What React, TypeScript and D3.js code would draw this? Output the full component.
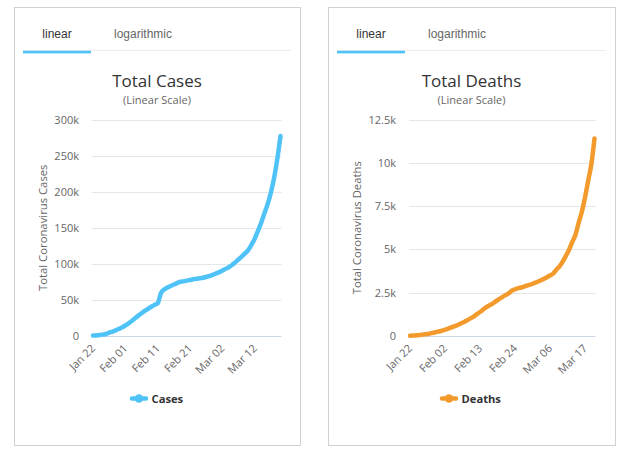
import React from "react";
import * as d3 from "d3";

// ---- data ----
const dates: Date[] = d3.timeDay.range(new Date(2020, 0, 22), new Date(2020, 2, 21)); // Jan 22 .. Mar 20

const totalCases = [
  580, 845, 1317, 2015, 2800, 4581, 6058, 7813, 9823, 11948,
  14551, 17389, 20628, 24553, 28276, 31439, 34876, 37552, 40553, 43099,
  45134, 59287, 64438, 67100, 69197, 71329, 73332, 75184, 75700, 76677,
  77673, 78651, 79205, 80087, 80828, 81820, 83112, 84615, 86604, 88585,
  90443, 93016, 95314, 98425, 102050, 106099, 109991, 114381, 118948, 126214,
  134576, 145483, 156653, 169593, 182490, 198238, 218822, 244933, 277000,
];

const totalDeaths = [
  17, 25, 41, 56, 80, 106, 132, 170, 213, 259,
  304, 362, 426, 492, 565, 638, 724, 813, 910, 1018,
  1115, 1261, 1383, 1526, 1669, 1775, 1873, 2009, 2126, 2247,
  2360, 2460, 2618, 2699, 2763, 2800, 2858, 2923, 2977, 3050,
  3117, 3202, 3285, 3387, 3494, 3599, 3827, 4025, 4296, 4628,
  4981, 5428, 5833, 6520, 7162, 7979, 8951, 9907, 11400,
];

const casesYTicks = [0, 50000, 100000, 150000, 200000, 250000, 300000];
const deathsYTicks = [0, 2500, 5000, 7500, 10000, 12500];
const casesXTickStep = 10;
const deathsXTickStep = 11;
const tabLabels = ["linear", "logarithmic"];

const fmtDate = d3.timeFormat("%b %d");
const fmtK = (v: number) => (v === 0 ? "0" : `${v / 1000}k`);

const FONT = "'Open Sans', 'DejaVu Sans', sans-serif";
const TAB_FONT = "'Liberation Sans', Arial, sans-serif";

interface PanelProps {
  px: number; // panel left
  pw: number; // panel width
  plotLeft: number;
  plotRight: number;
  values: number[];
  yTicks: number[];
  xStep: number;
  color: string;
  title: string;
  yTitle: string;
  yTitleX: number;
  seriesName: string;
  legendX: number;
}

const TOP = 119.5;
const BOTTOM = 336;

function Panel(p: PanelProps) {
  const x = d3.scaleLinear().domain([0, p.values.length - 1]).range([p.plotLeft, p.plotRight]);
  const y = d3.scaleLinear().domain([0, p.yTicks[p.yTicks.length - 1]]).range([BOTTOM, TOP]);
  const line = d3
    .line<number>()
    .x((_, i) => x(i))
    .y((d) => y(d))
    .curve(d3.curveMonotoneX);
  const cx = p.px + p.pw / 2;
  const innerL = p.px + 9;
  const innerR = p.px + p.pw - 9;
  const tabW = 68;
  const xTicks = d3.range(0, p.values.length, p.xStep);
  return (
    <g>
      <rect x={p.px + 0.5} y={7.5} width={p.pw} height={438} fill="#fff" stroke="#d0d0d0" strokeWidth={1} />
      {/* tabs */}
      <line x1={innerL} x2={innerR} y1={50.5} y2={50.5} stroke="#ececec" strokeWidth={1} />
      <rect x={innerL} y={50.8} width={tabW} height={2.6} fill="#4fc3f7" />
      <text x={innerL + tabW / 2} y={37.5} textAnchor="middle" fontFamily={TAB_FONT} fontSize={12} fill="#333">
        {tabLabels[0]}
      </text>
      <text x={innerL + tabW + 52} y={37.5} textAnchor="middle" fontFamily={TAB_FONT} fontSize={12} fill="#666">
        {tabLabels[1]}
      </text>
      {/* titles */}
      <text x={cx} y={86.5} textAnchor="middle" fontFamily={FONT} fontSize={17} fill="#333">
        {p.title}
      </text>
      <text x={cx} y={104} textAnchor="middle" fontFamily={FONT} fontSize={11} fill="#666">
        (Linear Scale)
      </text>
      {/* grid */}
      {p.yTicks.map((t) => (
        <g key={t}>
          {t !== 0 && (
            <line
              x1={p.plotLeft - 1}
              x2={p.plotRight + 1}
              y1={Math.round(y(t)) + 0.5}
              y2={Math.round(y(t)) + 0.5}
              stroke="#e6e6e6"
            />
          )}
          <text
            x={p.plotLeft - 14}
            y={y(t) + 4}
            textAnchor="end"
            fontFamily={FONT}
            fontSize={11}
            fill="#666"
          >
            {fmtK(t)}
          </text>
        </g>
      ))}
      <line x1={p.plotLeft - 1} x2={p.plotRight + 1} y1={BOTTOM + 0.5} y2={BOTTOM + 0.5} stroke="#ccd6eb" />
      {/* y title */}
      <text
        transform={`translate(${p.yTitleX},${(TOP + BOTTOM) / 2}) rotate(-90)`}
        textAnchor="middle"
        fontFamily={FONT}
        fontSize={11.3}
        fill="#666"
      >
        {p.yTitle}
      </text>
      {/* x labels */}
      {xTicks.map((i) => (
        <text
          key={i}
          transform={`translate(${x(i) + 3},${BOTTOM + 13}) rotate(-45)`}
          textAnchor="end"
          fontFamily={FONT}
          fontSize={11}
          fill="#666"
        >
          {fmtDate(dates[i])}
        </text>
      ))}
      {/* series */}
      <path d={line(p.values) || ""} fill="none" stroke={p.color} strokeWidth={4.5} strokeLinejoin="round" strokeLinecap="round" />
      {/* legend */}
      <line x1={p.legendX} x2={p.legendX + 14} y1={398.5} y2={398.5} stroke={p.color} strokeWidth={4.5} strokeLinecap="round" />
      <circle cx={p.legendX + 7} cy={398.5} r={4.2} fill={p.color} />
      <text x={p.legendX + 19.5} y={402.5} fontFamily={FONT} fontSize={11.2} fontWeight="bold" fill="#333">
        {p.seriesName}
      </text>
    </g>
  );
}

export default function App() {
  return (
    <svg
      width={630}
      height={463}
      style={{ position: "absolute", left: 0, top: 0, display: "block", background: "#fff" }}
    >
      <rect x={0} y={0} width={630} height={463} fill="#fff" />
      <Panel
        px={14}
        pw={286}
        plotLeft={93}
        plotRight={280.5}
        values={totalCases}
        yTicks={casesYTicks}
        xStep={casesXTickStep}
        color="#4fc3f7"
        title="Total Cases"
        yTitle="Total Coronavirus Cases"
        yTitleX={47}
        seriesName="Cases"
        legendX={132}
      />
      <Panel
        px={328}
        pw={287}
        plotLeft={410}
        plotRight={594.5}
        values={totalDeaths}
        yTicks={deathsYTicks}
        xStep={deathsXTickStep}
        color="#f39a2d"
        title="Total Deaths"
        yTitle="Total Coronavirus Deaths"
        yTitleX={361}
        seriesName="Deaths"
        legendX={442}
      />
    </svg>
  );
}
